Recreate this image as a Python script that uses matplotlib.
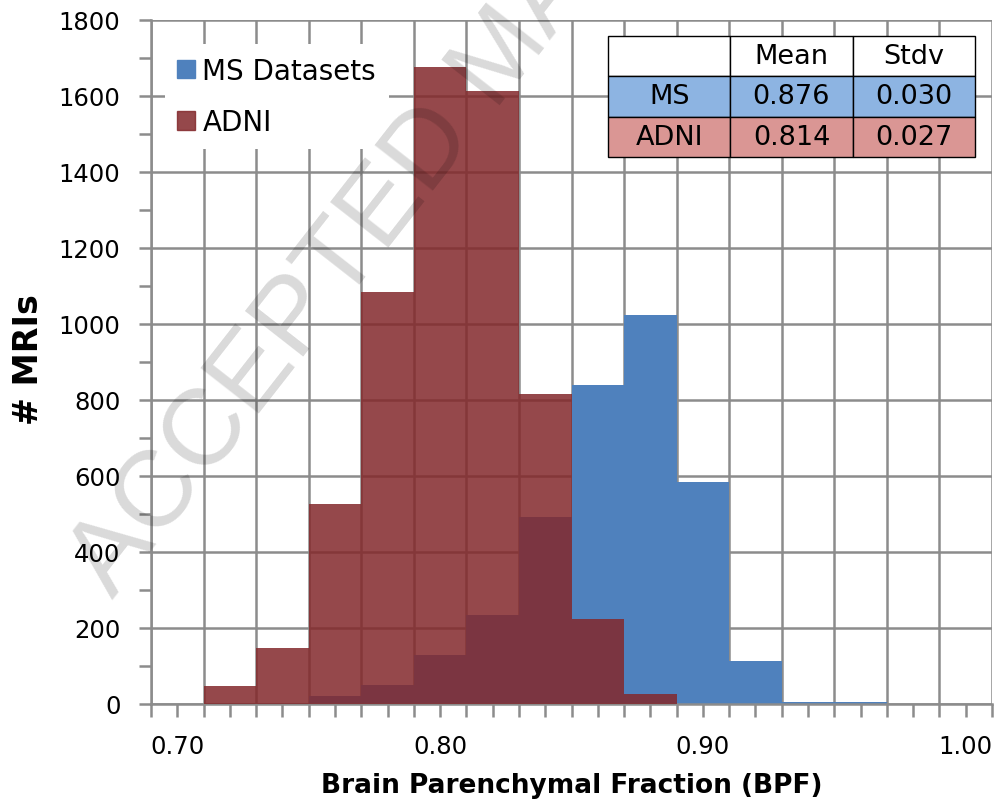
import numpy as np
import matplotlib
matplotlib.use("Agg")
import matplotlib.pyplot as plt
from matplotlib.patches import Patch

# histogram bins (left edges, width 0.02)
bin_left = [0.71, 0.73, 0.75, 0.77, 0.79, 0.81, 0.83, 0.85, 0.87, 0.89, 0.91, 0.93, 0.95]
ms_counts = [0, 0, 20, 48, 127, 233, 492, 838, 1022, 584, 112, 5, 5]
adni_counts = [45, 145, 525, 1083, 1675, 1612, 815, 222, 25, 0, 0, 0, 0]

tbl_cols = ["", "Mean", "Stdv"]
tbl_rows = [["MS", "0.876", "0.030"], ["ADNI", "0.814", "0.027"]]

BLUE = "#4F81BD"
RED = "#83282B"
GRID = "#8C8C8C"

plt.rcParams['font.family'] = ['DejaVu Sans']

fig = plt.figure(figsize=(9.99, 8.03), dpi=100)
ax = fig.add_axes([151/999, 1 - 704.5/803, (992-151)/999, (704.5-21)/803])

ax.set_xlim(0.69, 1.01)
ax.set_ylim(0, 1800)

# grid
for gx in np.arange(0.69, 1.0101, 0.02):
    ax.axvline(gx, color=GRID, lw=1.8, zorder=0)
for gy in np.arange(0, 1801, 200):
    ax.axhline(gy, color=GRID, lw=1.8, zorder=0)

ax.bar(bin_left, ms_counts, width=0.02, align='edge', color=BLUE, zorder=2)
ax.bar(bin_left, adni_counts, width=0.02, align='edge', color=RED, alpha=0.85, zorder=3)

# ticks
ax.set_xticks(np.arange(0.69, 1.0101, 0.01))
ax.set_xticklabels(["%.2f" % t if round(t * 100) % 10 == 0 else "" for t in np.arange(0.69, 1.0101, 0.01)])
ax.set_yticks(np.arange(0, 1801, 200))
ax.set_yticks(np.arange(100, 1800, 200), minor=True)
ax.tick_params(axis='both', which='both', direction='out', length=9, width=1.8, color=GRID,
               labelsize=17.5, pad=13)
for s in ['top', 'right']:
    ax.spines[s].set_visible(False)
for s in ['left', 'bottom']:
    ax.spines[s].set_color(GRID)
    ax.spines[s].set_linewidth(1.8)

fig.text(28.5/999, 1 - 360/803, "# MRIs", rotation=90, ha='center', va='center',
         fontsize=24, fontweight='bold')
fig.text(572/999, 1 - 786/803, "Brain Parenchymal Fraction (BPF)", ha='center', va='center',
         fontsize=19, fontweight='bold')

handles = [Patch(color=BLUE, label="MS Datasets"), Patch(color=RED, alpha=0.85, label="ADNI")]
leg = ax.legend(handles=handles, loc='upper left', bbox_to_anchor=(0.0, 0.985), fontsize=20,
                frameon=True, fancybox=False, framealpha=1, edgecolor='none', facecolor='white',
                handlelength=0.65, handleheight=0.65, handletextpad=0.25, labelspacing=0.85,
                borderpad=0.45)
leg.set_zorder(5)

# stats table
tb = ax.table(cellText=tbl_rows, colLabels=tbl_cols, cellLoc='center',
              bbox=[(608-151)/841, (704.5-158)/683.5, (975-608)/841, 121/683.5], zorder=6)
tb.auto_set_font_size(False)
row_colors = ["white", "#8DB4E2", "#DA9694"]
for (r, c), cell in tb.get_celld().items():
    cell.set_facecolor(row_colors[r])
    cell.set_edgecolor("black")
    cell.set_linewidth(1)
    cell.get_text().set_fontsize(19.5)

# watermark
fig.text(113/999, 1 - 600/803, "ACCEPTED MANUSCRIPT", rotation=52, rotation_mode='anchor',
         ha='left', va='baseline', fontsize=78, color='black', alpha=0.15,
         family='Liberation Sans', zorder=10)

fig.savefig("out.png", dpi=100)
